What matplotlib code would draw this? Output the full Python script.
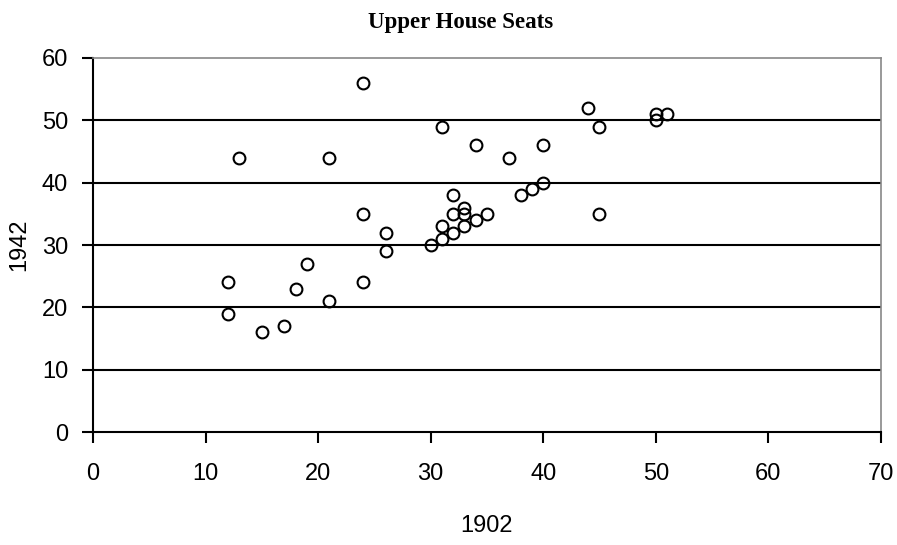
import matplotlib.pyplot as plt
import numpy as np

# seats, 1902 vs 1942
seats_1902 = [12, 12, 13, 15, 17, 18, 19, 21, 21, 24, 24, 24, 26, 26, 30, 31, 31, 31,
              32, 32, 32, 33, 33, 33, 34, 35, 34, 37, 38, 39, 40, 40, 44, 45, 45, 50, 50, 51]
seats_1942 = [24, 19, 44, 16, 17, 23, 27, 21, 44, 56, 35, 24, 32, 29, 30, 33, 31, 49,
              38, 35, 32, 36, 35, 33, 34, 35, 46, 44, 38, 39, 40, 46, 52, 49, 35, 51, 50, 51]

x_ticks = np.arange(0, 71, 10)
y_ticks = np.arange(0, 61, 10)

plt.rcParams['font.family'] = ['Liberation Sans', 'DejaVu Sans']

fig = plt.figure(figsize=(8.97, 5.45), dpi=100)
ax = fig.add_axes([0.1037, 0.2073, 0.8783, 0.6863])

for y in y_ticks[1:-1]:
    ax.axhline(y, color='black', linewidth=1.5, zorder=1)

ax.plot(seats_1902, seats_1942, linestyle='none', marker='o', markersize=8.5,
        markerfacecolor='none', markeredgecolor='black', markeredgewidth=1.5, zorder=3)

ax.set_xlim(0, 70)
ax.set_ylim(0, 60)
ax.set_xticks(x_ticks)
ax.set_yticks(y_ticks)
ax.tick_params(axis='both', labelsize=17, direction='out', length=8, width=1.5, color='black')
ax.tick_params(axis='x', pad=14)
ax.tick_params(axis='y', pad=10)

ax.spines['left'].set_linewidth(1.5)
ax.spines['bottom'].set_linewidth(1.5)
for s in ['top', 'right']:
    ax.spines[s].set_color('#888888')
    ax.spines[s].set_linewidth(1.2)

ax.set_xlabel('1902', fontsize=17, labelpad=22)
ax.set_ylabel('1942', fontsize=17, labelpad=8)
fig.suptitle('Upper House Seats', x=0.513, y=0.978, fontsize=16.5,
             fontweight='bold', family='Liberation Serif')

fig.savefig('out.png', dpi=100)
